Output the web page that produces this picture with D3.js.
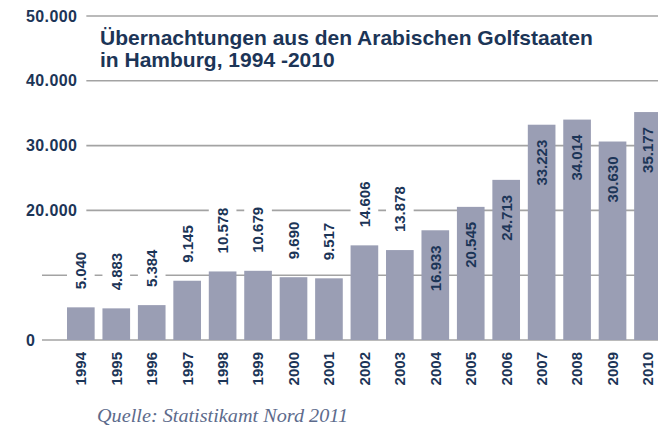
<!DOCTYPE html>
<html lang="de">
<head>
<meta charset="UTF-8">
<title>Übernachtungen Golfstaaten</title>
<script src="https://d3js.org/d3.v7.min.js"></script>
<style>
  body { margin: 0; background: #fff; }
  text { font-family: "Liberation Sans", Arial, sans-serif; }
</style>
</head>
<body>
<script>
    // data
    const years = ["1994", "1995", "1996", "1997", "1998", "1999", "2000", "2001", "2002",
        "2003", "2004", "2005", "2006", "2007", "2008", "2009", "2010"];
    const nights = [5040, 4883, 5384, 9145, 10578, 10679, 9690, 9517, 14606,
        13878, 16933, 20545, 24713, 33223, 34014, 30630, 35177];
    const tickValues = [0, 10000, 20000, 30000, 40000, 50000];
    const tickLabels = ["0", "", "20.000", "30.000", "40.000", "50.000"];
    const titleLines = ["Übernachtungen aus den Arabischen Golfstaaten", "in Hamburg, 1994 -2010"];
    const source = "Quelle: Statistikamt Nord 2011";

    let width = 658, height = 435;
    let navy = "#1c3557";
    let barColor = "#9a9eb4";
    let gridColor = "#a3a3a3";

    let svg = d3.select("body").append("svg")
        .attr("width", width)
        .attr("height", height);

    let x = d3.scaleBand()
        .domain(years)
        .range([63.1, 665.7])
        .paddingInner(0.22)
        .paddingOuter(0.11);

    let y = d3.scaleLinear()
        .domain([0, 50000])
        .range([340, 16]);

    // gridlines with labels on the left
    let ticks = svg.append("g").selectAll("g")
        .data(tickValues)
        .enter().append("g");

    ticks.append("text")
        .attr("x", 26)
        .attr("y", d => y(d))
        .attr("dy", "0.35em")
        .attr("fill", navy)
        .style("font-size", "16px")
        .style("font-weight", "bold")
        .style("letter-spacing", "0.4px")
        .text((d, i) => tickLabels[i]);

    ticks.append("line")
        .attr("x1", function (d, i) {
            if (!tickLabels[i] || tickLabels[i] === "0") return 42;
            return 26 + this.parentNode.querySelector("text").getComputedTextLength() + 9;
        })
        .attr("x2", width)
        .attr("y1", d => y(d))
        .attr("y2", d => y(d))
        .attr("stroke", gridColor)
        .attr("stroke-width", 1.6);

    // bars
    svg.append("g").selectAll("rect")
        .data(nights)
        .enter().append("rect")
        .attr("x", (d, i) => x(years[i]))
        .attr("y", d => y(d))
        .attr("width", x.bandwidth())
        .attr("height", d => y(0) - y(d))
        .attr("fill", barColor);

    // value labels: above the bar for small values, inside for large ones
    let fmt = d3.formatLocale({decimal: ",", thousands: ".", grouping: [3]}).format(",d");

    let labels = svg.append("g").selectAll("g")
        .data(nights)
        .enter().append("g")
        .attr("transform", function (d, i) {
            let cx = x(years[i]) + x.bandwidth() / 2;
            let yy = d > 15000 ? y(d) + 15 : y(d) - 18;
            return "translate(" + cx + "," + yy + ") rotate(-90)";
        });

    labels.append("text")
        .attr("dy", "0.36em")
        .attr("text-anchor", d => d > 15000 ? "end" : "start")
        .attr("fill", navy)
        .style("font-size", "15px")
        .style("font-weight", "bold")
        .text(d => fmt(d));

    // white patch behind labels that sit above the bars (cuts the gridlines)
    labels.filter(d => d <= 15000).insert("rect", "text")
        .attr("x", -3)
        .attr("y", -x.bandwidth() / 2)
        .attr("width", function () {
            return this.parentNode.querySelector("text").getComputedTextLength() + 6;
        })
        .attr("height", x.bandwidth())
        .attr("fill", "#fff");

    // year labels
    svg.append("g").selectAll("text")
        .data(years)
        .enter().append("text")
        .attr("transform", d => "translate(" + (x(d) + x.bandwidth() / 2) + ",352) rotate(-90)")
        .attr("dy", "0.36em")
        .attr("text-anchor", "end")
        .attr("fill", navy)
        .style("font-size", "15px")
        .style("font-weight", "bold")
        .text(d => d);

    // title
    svg.append("g").selectAll("text")
        .data(titleLines)
        .enter().append("text")
        .attr("x", 100)
        .attr("y", (d, i) => 45 + i * 22)
        .attr("fill", navy)
        .style("font-size", "21px")
        .style("font-weight", "bold")
        .text(d => d);

    // source
    svg.append("text")
        .attr("x", 97)
        .attr("y", 422)
        .attr("fill", "#5d6b8c")
        .attr("textLength", 251)
        .attr("lengthAdjust", "spacingAndGlyphs")
        .style("font-family", "'Liberation Serif', 'Times New Roman', serif")
        .style("font-style", "italic")
        .style("font-size", "18px")
        .text(source);
</script>
</body>
</html>
